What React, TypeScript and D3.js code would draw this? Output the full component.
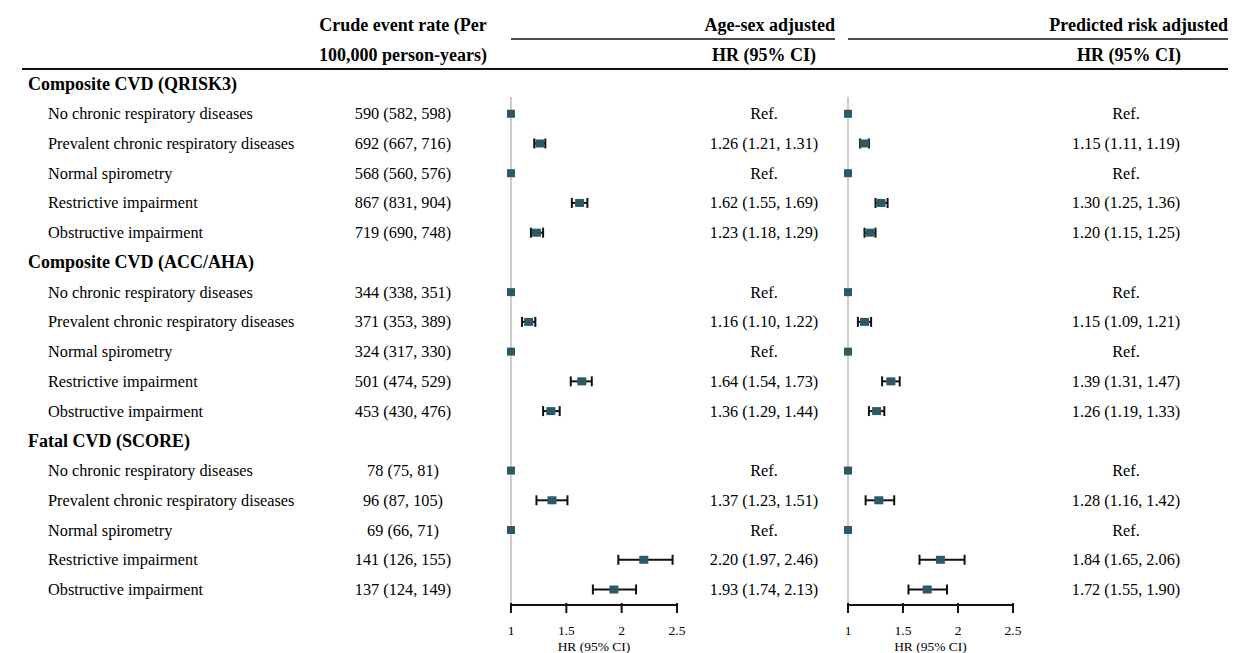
import React from "react";
import * as d3 from "d3";

// Row definitions: section headers have kind "h"
const rowKinds = ["h","r","r","r","r","r","h","r","r","r","r","r","h","r","r","r","r","r"];
const rowLabels = [
  "Composite CVD (QRISK3)",
  "No chronic respiratory diseases",
  "Prevalent chronic respiratory diseases",
  "Normal spirometry",
  "Restrictive impairment",
  "Obstructive impairment",
  "Composite CVD (ACC/AHA)",
  "No chronic respiratory diseases",
  "Prevalent chronic respiratory diseases",
  "Normal spirometry",
  "Restrictive impairment",
  "Obstructive impairment",
  "Fatal CVD (SCORE)",
  "No chronic respiratory diseases",
  "Prevalent chronic respiratory diseases",
  "Normal spirometry",
  "Restrictive impairment",
  "Obstructive impairment",
];
const crudeRates = [
  "", "590 (582, 598)", "692 (667, 716)", "568 (560, 576)", "867 (831, 904)", "719 (690, 748)",
  "", "344 (338, 351)", "371 (353, 389)", "324 (317, 330)", "501 (474, 529)", "453 (430, 476)",
  "", "78 (75, 81)", "96 (87, 105)", "69 (66, 71)", "141 (126, 155)", "137 (124, 149)",
];
// Age-sex adjusted HR (null = reference group)
const ageSexHR = [null, null, 1.26, null, 1.62, 1.23, null, null, 1.16, null, 1.64, 1.36, null, null, 1.37, null, 2.20, 1.93];
const ageSexLo = [null, null, 1.21, null, 1.55, 1.18, null, null, 1.10, null, 1.54, 1.29, null, null, 1.23, null, 1.97, 1.74];
const ageSexHi = [null, null, 1.31, null, 1.69, 1.29, null, null, 1.22, null, 1.73, 1.44, null, null, 1.51, null, 2.46, 2.13];
// Predicted risk adjusted HR
const predHR = [null, null, 1.15, null, 1.30, 1.20, null, null, 1.15, null, 1.39, 1.26, null, null, 1.28, null, 1.84, 1.72];
const predLo = [null, null, 1.11, null, 1.25, 1.15, null, null, 1.09, null, 1.31, 1.19, null, null, 1.16, null, 1.65, 1.55];
const predHi = [null, null, 1.19, null, 1.36, 1.25, null, null, 1.21, null, 1.47, 1.33, null, null, 1.42, null, 2.06, 1.90];
const axisTicks = [1, 1.5, 2, 2.5];

const W = 1242;
const H = 653;
const FONT = "'Liberation Serif', 'Times New Roman', serif";
const MARK = "#2b5a66";
const BODY = 16.3;
const HEAD = 18;
const SMALL = 13.5;

const yScale = d3.scaleLinear().domain([0, rowLabels.length - 1]).range([84, 589.5]);

function fmt(v: number) {
  return v.toFixed(2);
}

type PanelProps = {
  x0: number;
  x1: number;
  est: (number | null)[];
  lo: (number | null)[];
  hi: (number | null)[];
  textX: number;
};

function Panel({ x0, x1, est, lo, hi, textX }: PanelProps) {
  const x = d3.scaleLinear().domain([1, 2.5]).range([x0, x1]);
  const axisY = 605;
  return (
    <g>
      <line x1={x(1)} x2={x(1)} y1={yScale(0) + 13} y2={axisY} stroke="#bdbdbd" strokeWidth={1.5} />
      {rowKinds.map((k, i) => {
        if (k === "h") return null;
        const y = yScale(i);
        const e = est[i];
        if (e === null) {
          return (
            <g key={i}>
              <rect x={x(1) - 4} y={y - 4} width={8} height={8} fill={MARK} />
              <text x={textX} y={y + 5.5} textAnchor="middle" fontSize={BODY} fontFamily={FONT}>Ref.</text>
            </g>
          );
        }
        const l = lo[i] as number;
        const h = hi[i] as number;
        return (
          <g key={i}>
            <line x1={x(l)} x2={x(h)} y1={y} y2={y} stroke="#111" strokeWidth={2} />
            <line x1={x(l)} x2={x(l)} y1={y - 5} y2={y + 5} stroke="#111" strokeWidth={2} />
            <line x1={x(h)} x2={x(h)} y1={y - 5} y2={y + 5} stroke="#111" strokeWidth={2} />
            <rect x={x(e) - 4.5} y={y - 4} width={9} height={8} fill={MARK} />
            <text x={textX} y={y + 5.5} textAnchor="middle" fontSize={BODY} fontFamily={FONT}>
              {`${fmt(e)} (${fmt(l)}, ${fmt(h)})`}
            </text>
          </g>
        );
      })}
      <line x1={x(1) - 1} x2={x(2.5) + 1} y1={axisY} y2={axisY} stroke="#111" strokeWidth={2} />
      {axisTicks.map((t) => (
        <g key={t}>
          <line x1={x(t)} x2={x(t)} y1={axisY - 2} y2={axisY + 8} stroke="#111" strokeWidth={2} />
          <text x={x(t)} y={635} textAnchor="middle" fontSize={SMALL} fontFamily={FONT}>{String(t)}</text>
        </g>
      ))}
      <text x={(x0 + x1) / 2} y={651} textAnchor="middle" fontSize={SMALL} fontFamily={FONT}>HR (95% CI)</text>
    </g>
  );
}

export default function App() {
  return (
    <svg width={W} height={H} style={{ display: "block", position: "absolute", left: 0, top: 0, background: "#fff" }}>
      <rect width={W} height={H} fill="#fff" />
      {/* Column headers */}
      <g fontFamily={FONT} fontWeight="bold" fontSize={HEAD}>
        <text x={403} y={31} textAnchor="middle">Crude event rate (Per</text>
        <text x={403} y={61} textAnchor="middle">100,000 person-years)</text>
        <text x={835} y={31} textAnchor="end">Age-sex adjusted</text>
        <text x={816} y={61} textAnchor="end">HR (95% CI)</text>
        <text x={1228} y={31} textAnchor="end">Predicted risk adjusted</text>
        <text x={1181} y={61} textAnchor="end">HR (95% CI)</text>
      </g>
      <line x1={511} x2={835} y1={39} y2={39} stroke="#111" strokeWidth={1.5} />
      <line x1={848} x2={1228} y1={39} y2={39} stroke="#111" strokeWidth={1.5} />
      <line x1={22} x2={1228} y1={69} y2={69} stroke="#111" strokeWidth={2} />
      {/* Row labels and crude rates */}
      {rowLabels.map((lab, i) => {
        const y = yScale(i);
        if (rowKinds[i] === "h") {
          return (
            <text key={i} x={28} y={y + 6} fontFamily={FONT} fontWeight="bold" fontSize={HEAD}>{lab}</text>
          );
        }
        return (
          <g key={i} fontFamily={FONT} fontSize={BODY}>
            <text x={48} y={y + 5.5}>{lab}</text>
            <text x={403} y={y + 5.5} textAnchor="middle">{crudeRates[i]}</text>
          </g>
        );
      })}
      <Panel x0={511} x1={677} est={ageSexHR} lo={ageSexLo} hi={ageSexHi} textX={764} />
      <Panel x0={848} x1={1013} est={predHR} lo={predLo} hi={predHi} textX={1126} />
    </svg>
  );
}
